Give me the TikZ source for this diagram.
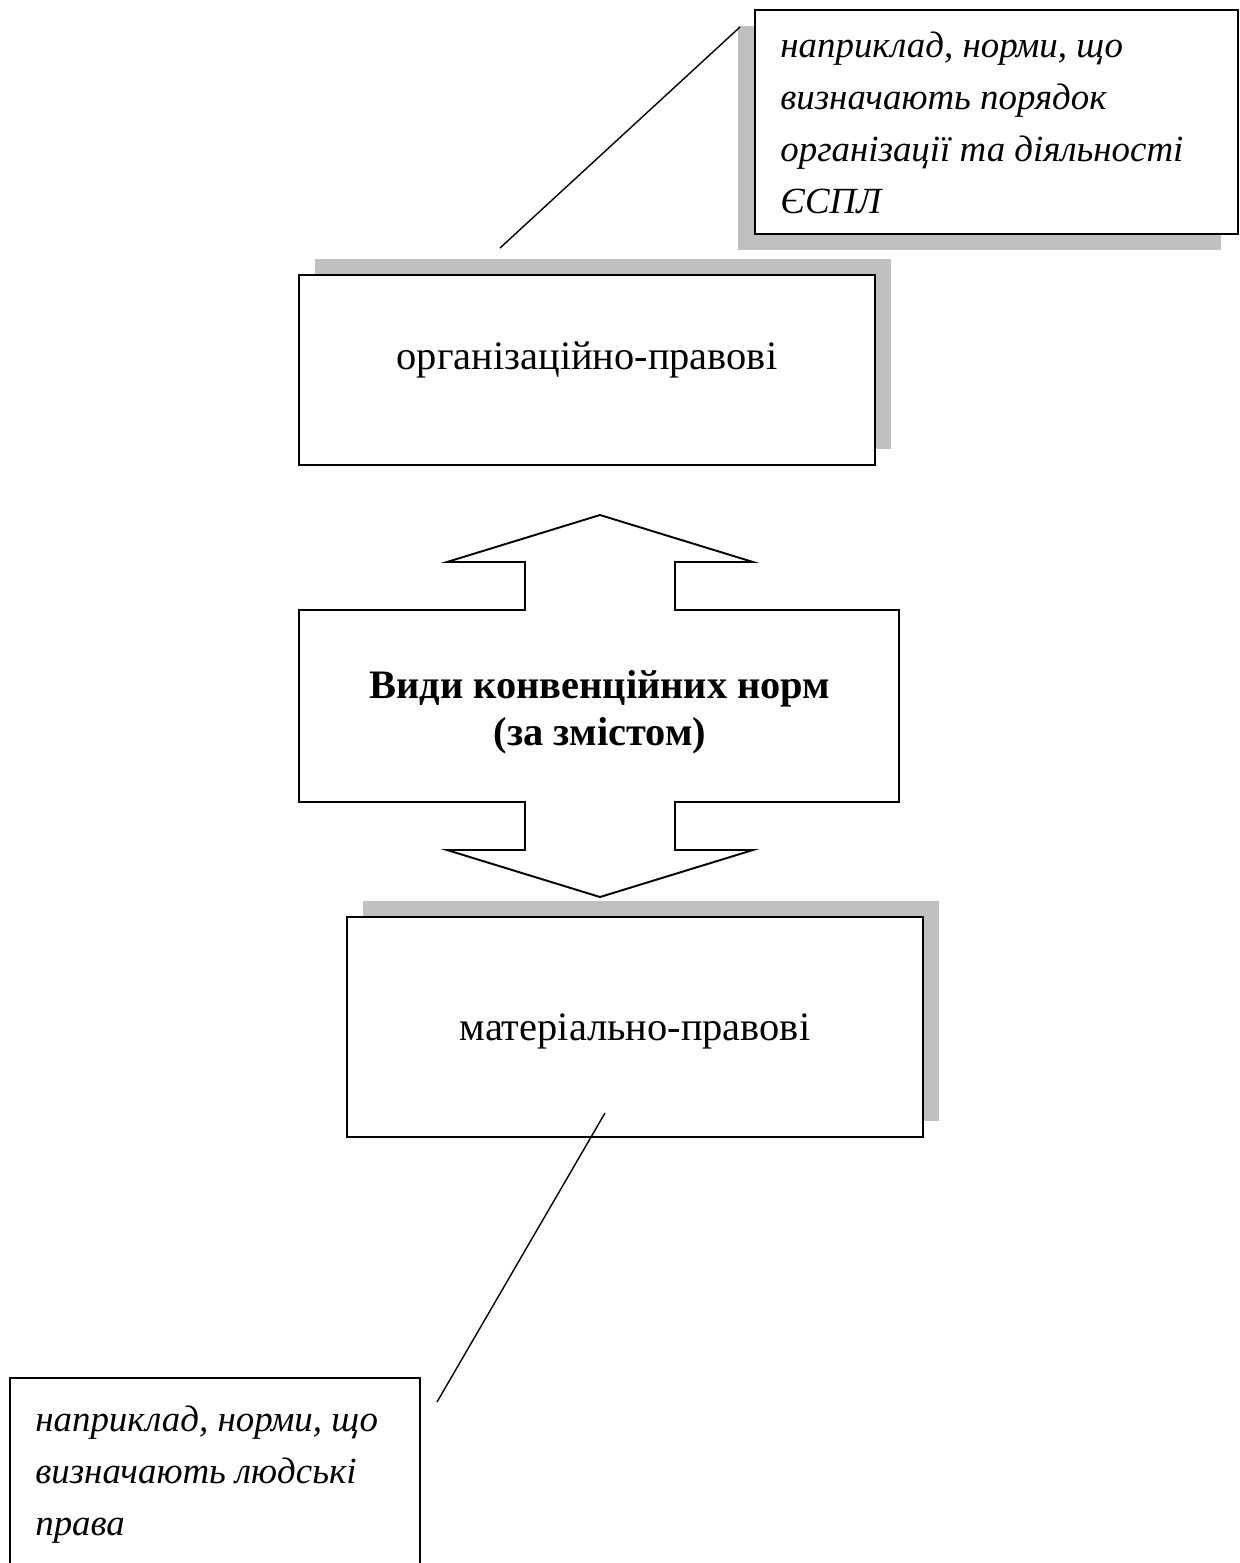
\documentclass[tikz,border=0pt]{standalone}
\usepackage{fontspec}
\setmainfont{Liberation Serif}
\definecolor{shadowgray}{RGB}{192,192,192}
\tikzset{
  box/.style={draw=black, line width=1.1pt, fill=white, inner sep=0pt},
  shadowbox/.style={fill=shadowgray, draw=none, inner sep=0pt},
  label/.style={font=\fontsize{23}{27}\selectfont, inner sep=0pt},
  note/.style={font=\fontsize{21}{29.5}\selectfont\itshape, align=left, inner sep=0pt, anchor=north west},
  link/.style={draw=black, line width=0.8pt},
}
\begin{document}
\begin{tikzpicture}[x=0.02cm, y=-0.02cm]
\useasboundingbox (0,0) rectangle (1240,1563);
% top-right note
\node[shadowbox, minimum width=483*0.02cm, minimum height=224*0.02cm] (s1) at (979.5,138) {};
\node[box, minimum width=483*0.02cm, minimum height=224*0.02cm] (n1) at (996.5,122) {};
\node[note] (t1) at (780,32) {наприклад, норми, що\\визначають порядок\\організації та діяльності\\ЄСПЛ};
% org box
\node[shadowbox, minimum width=576*0.02cm, minimum height=190*0.02cm] (s2) at (603,354) {};
\node[box, minimum width=576*0.02cm, minimum height=190*0.02cm] (b1) at (587,370) {};
\node[label] (l1) at (587,360) {організаційно-правові};
% connector top
\coordinate (c1) at (500,248);
\coordinate (c2) at (740,27);
\draw[link] (c1) -- (c2);
% double arrow
\draw[line width=1.1pt, line join=miter] (600,515) -- (753,562) -- (675,562) -- (675,610) -- (899,610) -- (899,802) -- (675,802) -- (675,850) -- (753,850) -- (600,897) -- (447,850) -- (525,850) -- (525,802) -- (299,802) -- (299,610) -- (525,610) -- (525,562) -- (447,562) -- cycle;
\node[label, font=\fontsize{23}{27}\selectfont\bfseries, align=center] (l0) at (600,712) {Види конвенційних норм\\(за змістом)};
% mat box
\node[shadowbox, minimum width=576*0.02cm, minimum height=220*0.02cm] (s3) at (651,1011) {};
\node[box, minimum width=576*0.02cm, minimum height=220*0.02cm] (b2) at (635,1027) {};
\node[label] (l2) at (635,1031) {матеріально-правові};
% bottom-left note
\node[box, minimum width=410*0.02cm, minimum height=210*0.02cm] (n2) at (215,1483) {};
\node[note] (t2) at (35,1406) {наприклад, норми, що\\визначають людські\\права};
\coordinate (c3) at (605,1113);
\coordinate (c4) at (437,1402);
\draw[link] (c3) -- (c4);
\end{tikzpicture}
\end{document}
